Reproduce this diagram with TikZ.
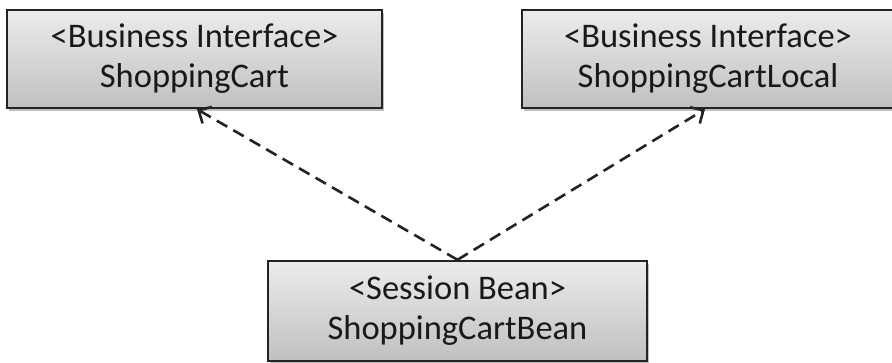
\documentclass[tikz,border=0pt]{standalone}
\usepackage{fontspec}
\setmainfont{Carlito}
\usetikzlibrary{arrows.meta,shadows}
\definecolor{boxtop}{RGB}{236,236,236}
\definecolor{boxbot}{RGB}{192,192,192}
\definecolor{boxline}{RGB}{35,35,35}
\definecolor{txt}{RGB}{25,25,25}
\tikzset{
  beanbox/.style={draw=boxline, line width=2.4pt, top color=boxtop, bottom color=boxbot,
    rectangle, align=center, text=txt, inner sep=0pt,
    font=\fontsize{34.5}{40}\selectfont,
    drop shadow={shadow xshift=2pt, shadow yshift=-3pt, opacity=0.25, fill=black}},
  realize/.style={draw=boxline, line width=2.6pt, dash pattern=on 12pt off 7pt,
    -{Straight Barb[length=10pt,width=19pt,line width=2.6pt]}}
}
\begin{document}
\begin{tikzpicture}[x=1pt,y=-1pt]
\useasboundingbox (0,0) rectangle (892,363);
\begin{scope}
\clip (0,0) rectangle (892,363);
\node[beanbox, minimum width=375pt, minimum height=98pt] (lb) at (194.5,59)
  {<Business Interface>\\ShoppingCart};
\node[beanbox, minimum width=372pt, minimum height=98pt] (rb) at (708,59)
  {<Business Interface>\\ShoppingCartLocal};
\node[beanbox, minimum width=379pt, minimum height=100pt] (sb) at (457.5,311)
  {<Session Bean>\\ShoppingCartBean};
\draw[realize] (sb.north) -- ([xshift=2.5pt]lb.south);
\draw[realize] (sb.north) -- ([xshift=-3pt]rb.south);
\end{scope}
\end{tikzpicture}
\end{document}
